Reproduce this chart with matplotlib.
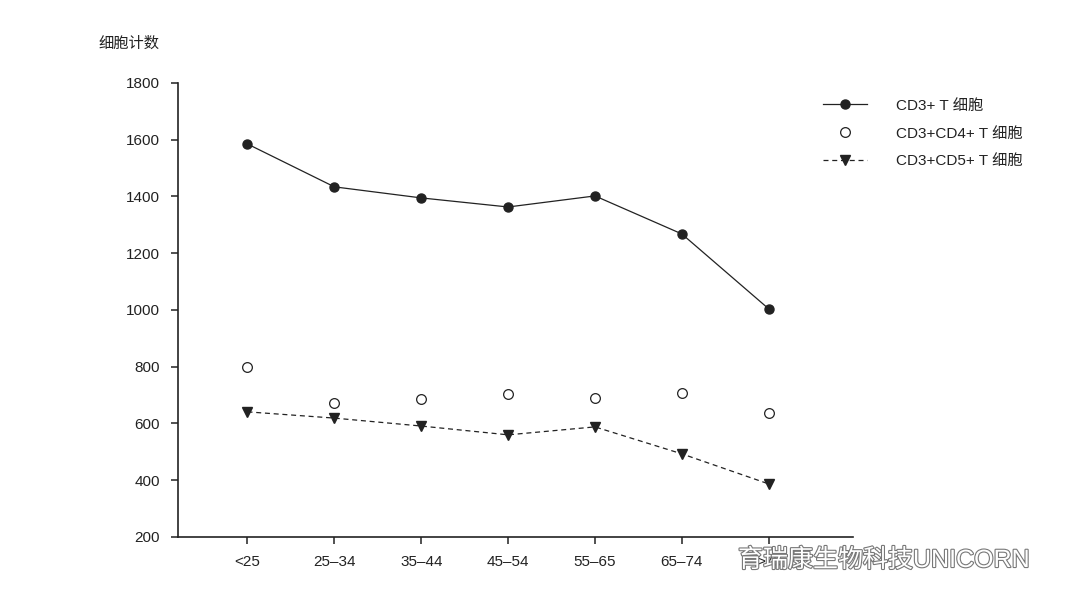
import matplotlib

matplotlib.use("Agg")
import matplotlib.pyplot as plt
import matplotlib.patheffects as pe

plt.rcParams["font.family"] = ["Liberation Sans", "Noto Sans CJK SC", "DejaVu Sans"]

age_groups = ["<25", "25\u201334", "35\u201344", "45\u201354", "55\u201365", "65\u201374", ">75"]
cd3 = [1585, 1434, 1395, 1363, 1402, 1268, 1004]
cd3_cd4 = [799, 672, 686, 704, 690, 707, 637]
cd3_cd5 = [641, 619, 591, 560, 588, 493, 387]

ink = "#222222"

fig = plt.figure(figsize=(10.8, 6.08), dpi=100)
ax = fig.add_axes([0.1648, 0.1168, 0.625, 0.7467])
x = list(range(len(age_groups)))

ax.plot(x, cd3, color=ink, lw=0.9, marker="o", ms=6.5, label="CD3+ T 细胞")
ax.plot(x, cd3_cd4, ls="none", marker="o", ms=7, mfc="white", mec=ink, mew=0.9,
        label="CD3+CD4+ T 细胞")
ax.plot(x, cd3_cd5, color=ink, lw=0.9, ls=(0, (4, 3)), marker="v", ms=7,
        label="CD3+CD5+ T 细胞")

ax.set_xlim(-0.8, 6.97)
ax.set_ylim(200, 1800)
ax.set_yticks(range(200, 1801, 200))
ax.set_xticks(x)
ax.set_xticklabels(age_groups)
for s in ["top", "right"]:
    ax.spines[s].set_visible(False)
for s in ["left", "bottom"]:
    ax.spines[s].set_color(ink)
    ax.spines[s].set_linewidth(1.2)
ax.tick_params(colors=ink, labelsize=11, length=5, width=1.1, pad=8)
ax.tick_params(axis="y", pad=8)

fig.text(98 / 1080, 1 - 44 / 608, "细胞计数", fontsize=11, color=ink, va="center")

fig.legend(loc="upper left", bbox_to_anchor=(809 / 1080, 1 - 85 / 608), frameon=False,
           prop={"size": 11}, labelcolor=ink, handlelength=2.9, handletextpad=1.9,
           labelspacing=0.9)

fig.text(738 / 1080, 1 - 560 / 608, "育瑞康生物科技UNICORN", fontsize=18, color="white",
         va="center", zorder=5,
         path_effects=[pe.withStroke(linewidth=1.6, foreground="#777777")])

fig.savefig("out.png", dpi=100)
